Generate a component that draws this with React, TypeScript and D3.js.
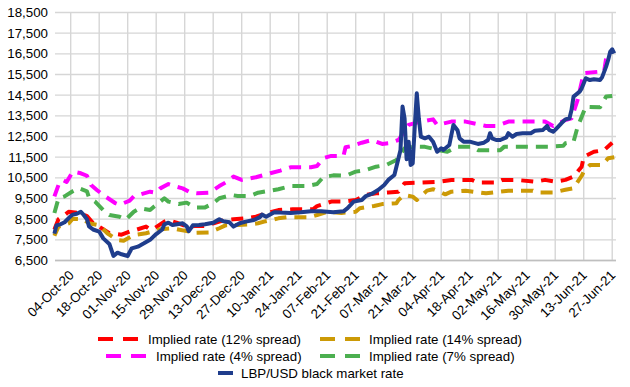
import * as d3 from "d3";

// LBP/USD black market rate vs implied rates, Sep 2020 - Jun 2021
const blackMarket: [string, number][] = [
  ["26-Sep-20", 7800], ["27-Sep-20", 8200], ["29-Sep-20", 8250], ["01-Oct-20", 8350],
  ["04-Oct-20", 8650], ["05-Oct-20", 8720], ["07-Oct-20", 8760], ["09-Oct-20", 8860],
  ["10-Oct-20", 8750], ["12-Oct-20", 8500], ["13-Oct-20", 8150], ["15-Oct-20", 8000],
  ["18-Oct-20", 7900], ["20-Oct-20", 7570], ["23-Oct-20", 7300], ["25-Oct-20", 6720],
  ["27-Oct-20", 6880], ["29-Oct-20", 6800], ["01-Nov-20", 6720], ["03-Nov-20", 7090],
  ["06-Nov-20", 7170], ["09-Nov-20", 7330], ["12-Nov-20", 7500], ["15-Nov-20", 7780],
  ["18-Nov-20", 8000], ["19-Nov-20", 8250], ["21-Nov-20", 8330], ["23-Nov-20", 8220],
  ["26-Nov-20", 8270], ["28-Nov-20", 8300], ["30-Nov-20", 8150], ["01-Dec-20", 7920],
  ["03-Dec-20", 8200], ["06-Dec-20", 8220], ["09-Dec-20", 8250], ["13-Dec-20", 8330],
  ["16-Dec-20", 8500], ["18-Dec-20", 8400], ["21-Dec-20", 8350], ["23-Dec-20", 8140],
  ["26-Dec-20", 8300], ["29-Dec-20", 8380], ["02-Jan-21", 8460], ["05-Jan-21", 8600],
  ["06-Jan-21", 8720], ["08-Jan-21", 8620], ["12-Jan-21", 8840], ["15-Jan-21", 8820],
  ["20-Jan-21", 8800], ["25-Jan-21", 8830], ["30-Jan-21", 8880], ["04-Feb-21", 8880],
  ["10-Feb-21", 8840], ["15-Feb-21", 8880], ["17-Feb-21", 9030], ["20-Feb-21", 9350],
  ["24-Feb-21", 9430], ["26-Feb-21", 9620], ["01-Mar-21", 9730], ["04-Mar-21", 9910],
  ["07-Mar-21", 10150], ["09-Mar-21", 10400], ["12-Mar-21", 10640], ["13-Mar-21", 11040],
  ["15-Mar-21", 11850], ["16-Mar-21", 13950], ["17-Mar-21", 13380], ["18-Mar-21", 11400],
  ["19-Mar-21", 12250], ["20-Mar-21", 11120], ["21-Mar-21", 11200], ["22-Mar-21", 12970],
  ["23-Mar-21", 14590], ["24-Mar-21", 13380], ["25-Mar-21", 12490], ["27-Mar-21", 12410],
  ["29-Mar-21", 12490], ["31-Mar-21", 12250], ["02-Apr-21", 11760], ["04-Apr-21", 11930],
  ["05-Apr-21", 11850], ["08-Apr-21", 12090], ["10-Apr-21", 13060], ["12-Apr-21", 12800],
  ["13-Apr-21", 12410], ["15-Apr-21", 12250], ["18-Apr-21", 12250], ["22-Apr-21", 12140],
  ["25-Apr-21", 12200], ["27-Apr-21", 12330], ["28-Apr-21", 12660], ["29-Apr-21", 12410],
  ["01-May-21", 12330], ["03-May-21", 12330], ["06-May-21", 12460], ["07-May-21", 12660],
  ["09-May-21", 12490], ["11-May-21", 12620], ["14-May-21", 12660], ["18-May-21", 12660],
  ["20-May-21", 12780], ["24-May-21", 12820], ["26-May-21", 13010], ["27-May-21", 12820],
  ["29-May-21", 12730], ["30-May-21", 12820], ["02-Jun-21", 13140], ["04-Jun-21", 13330],
  ["06-Jun-21", 13380], ["07-Jun-21", 13780], ["08-Jun-21", 14430], ["11-Jun-21", 14670],
  ["12-Jun-21", 14830], ["14-Jun-21", 15320], ["16-Jun-21", 15230], ["18-Jun-21", 15270],
  ["21-Jun-21", 15230], ["22-Jun-21", 15360], ["24-Jun-21", 15880], ["25-Jun-21", 16200],
  ["26-Jun-21", 16600], ["27-Jun-21", 16720], ["28-Jun-21", 16520],
];

const spread12: [string, number][] = [
  ["26-Sep-20", 8000], ["28-Sep-20", 8500], ["01-Oct-20", 8700], ["03-Oct-20", 8860],
  ["09-Oct-20", 8780], ["12-Oct-20", 8650], ["15-Oct-20", 8300], ["18-Oct-20", 8140],
  ["23-Oct-20", 7820], ["29-Oct-20", 7750], ["02-Nov-20", 7900], ["05-Nov-20", 7980],
  ["10-Nov-20", 8140], ["12-Nov-20", 8000], ["14-Nov-20", 8050], ["19-Nov-20", 8380],
  ["21-Nov-20", 8450], ["25-Nov-20", 8330], ["30-Nov-20", 8140], ["04-Dec-20", 8170],
  ["09-Dec-20", 8170], ["16-Dec-20", 8380], ["19-Dec-20", 8460], ["23-Dec-20", 8500],
  ["29-Dec-20", 8540], ["03-Jan-21", 8620], ["08-Jan-21", 8780], ["14-Jan-21", 8940],
  ["21-Jan-21", 8980], ["31-Jan-21", 8980], ["02-Feb-21", 9130], ["09-Feb-21", 9350],
  ["15-Feb-21", 9350], ["21-Feb-21", 9430], ["26-Feb-21", 9670], ["03-Mar-21", 9750],
  ["09-Mar-21", 9790], ["14-Mar-21", 9830], ["17-Mar-21", 10240], ["25-Mar-21", 10270],
  ["03-Apr-21", 10310], ["09-Apr-21", 10400], ["19-Apr-21", 10400], ["22-Apr-21", 10270],
  ["01-May-21", 10270], ["04-May-21", 10400], ["11-May-21", 10400], ["20-May-21", 10310],
  ["25-May-21", 10400], ["30-May-21", 10310], ["04-Jun-21", 10400], ["08-Jun-21", 10560],
  ["12-Jun-21", 11040], ["13-Jun-21", 11520], ["18-Jun-21", 11760], ["23-Jun-21", 11840],
  ["27-Jun-21", 12200],
];

const spread14: [string, number][] = [
  ["26-Sep-20", 7700], ["28-Sep-20", 8140], ["03-Oct-20", 8300], ["05-Oct-20", 8520],
  ["10-Oct-20", 8500], ["13-Oct-20", 8300], ["18-Oct-20", 8200], ["22-Oct-20", 7820],
  ["27-Oct-20", 7490], ["30-Oct-20", 7460], ["04-Nov-20", 7730], ["10-Nov-20", 7820],
  ["17-Nov-20", 8010], ["23-Nov-20", 8060], ["30-Nov-20", 7920], ["04-Dec-20", 7840],
  ["11-Dec-20", 7860], ["16-Dec-20", 8060], ["19-Dec-20", 8200], ["25-Dec-20", 8220],
  ["31-Dec-20", 8250], ["04-Jan-21", 8300], ["07-Jan-21", 8380], ["14-Jan-21", 8540],
  ["18-Jan-21", 8590], ["29-Jan-21", 8590], ["02-Feb-21", 8700], ["07-Feb-21", 8860],
  ["14-Feb-21", 8800], ["21-Feb-21", 8860], ["23-Feb-21", 9030], ["02-Mar-21", 9140],
  ["06-Mar-21", 9230], ["13-Mar-21", 9270], ["14-Mar-21", 9430], ["17-Mar-21", 9670],
  ["21-Mar-21", 9590], ["23-Mar-21", 9430], ["28-Mar-21", 9880], ["31-Mar-21", 9950],
  ["03-Apr-21", 9830], ["06-Apr-21", 9700], ["09-Apr-21", 9830], ["16-Apr-21", 9880],
  ["26-Apr-21", 9750], ["07-May-21", 9880], ["19-May-21", 9880], ["21-May-21", 9790],
  ["29-May-21", 9790], ["04-Jun-21", 9920], ["08-Jun-21", 10000], ["12-Jun-21", 10600],
  ["13-Jun-21", 10800], ["16-Jun-21", 11120], ["22-Jun-21", 11120], ["25-Jun-21", 11450],
  ["28-Jun-21", 11500],
];

const spread4: [string, number][] = [
  ["26-Sep-20", 9600], ["28-Sep-20", 10150], ["30-Sep-20", 10400], ["02-Oct-20", 10300],
  ["05-Oct-20", 10800], ["09-Oct-20", 10720], ["12-Oct-20", 10600], ["14-Oct-20", 10150],
  ["17-Oct-20", 9900], ["20-Oct-20", 9670], ["26-Oct-20", 9270], ["28-Oct-20", 9190],
  ["02-Nov-20", 9400], ["04-Nov-20", 9600], ["09-Nov-20", 9750], ["12-Nov-20", 9830],
  ["15-Nov-20", 9780], ["17-Nov-20", 9990], ["21-Nov-20", 10200], ["24-Nov-20", 10100],
  ["28-Nov-20", 9990], ["02-Dec-20", 9780], ["05-Dec-20", 9750], ["11-Dec-20", 9780],
  ["16-Dec-20", 10100], ["19-Dec-20", 10270], ["23-Dec-20", 10560], ["27-Dec-20", 10400],
  ["03-Jan-21", 10530], ["10-Jan-21", 10720], ["15-Jan-21", 10850], ["20-Jan-21", 11010],
  ["30-Jan-21", 11010], ["02-Feb-21", 11070], ["05-Feb-21", 11450], ["09-Feb-21", 11560],
  ["15-Feb-21", 11560], ["16-Feb-21", 11980], ["19-Feb-21", 12040], ["24-Feb-21", 12200],
  ["01-Mar-21", 12330], ["06-Mar-21", 12140], ["09-Mar-21", 12170], ["14-Mar-21", 12330],
  ["19-Mar-21", 13060], ["23-Mar-21", 13170], ["31-Mar-21", 13330], ["02-Apr-21", 13060],
  ["09-Apr-21", 13220], ["16-Apr-21", 13220], ["26-Apr-21", 13010], ["01-May-21", 13010],
  ["07-May-21", 13220], ["25-May-21", 13220], ["29-May-21", 13010], ["04-Jun-21", 13300],
  ["07-Jun-21", 13380], ["10-Jun-21", 14270], ["13-Jun-21", 15560], ["21-Jun-21", 15640],
  ["23-Jun-21", 15640], ["24-Jun-21", 16280], ["26-Jun-21", 16520],
];

const spread7: [string, number][] = [
  ["26-Sep-20", 8800], ["28-Sep-20", 9500], ["01-Oct-20", 9600], ["05-Oct-20", 9850],
  ["08-Oct-20", 10000], ["12-Oct-20", 9850], ["13-Oct-20", 9550], ["16-Oct-20", 9350],
  ["20-Oct-20", 8940], ["23-Oct-20", 8700], ["28-Oct-20", 8620], ["31-Oct-20", 8480],
  ["04-Nov-20", 8860], ["07-Nov-20", 9030], ["12-Nov-20", 8940], ["14-Nov-20", 9110],
  ["19-Nov-20", 9510], ["21-Nov-20", 9350], ["26-Nov-20", 9230], ["30-Nov-20", 9300],
  ["04-Dec-20", 9070], ["09-Dec-20", 9070], ["13-Dec-20", 9270], ["16-Dec-20", 9510],
  ["22-Dec-20", 9670], ["25-Dec-20", 9620], ["31-Dec-20", 9620], ["04-Jan-21", 9780],
  ["10-Jan-21", 9880], ["14-Jan-21", 9950], ["20-Jan-21", 10100], ["28-Jan-21", 10100],
  ["02-Feb-21", 10200], ["05-Feb-21", 10530], ["10-Feb-21", 10620], ["16-Feb-21", 10600],
  ["21-Feb-21", 10800], ["26-Feb-21", 10880], ["03-Mar-21", 11040], ["08-Mar-21", 11120],
  ["13-Mar-21", 11360], ["17-Mar-21", 11930], ["22-Mar-21", 12010], ["27-Mar-21", 12000],
  ["03-Apr-21", 11840], ["07-Apr-21", 11760], ["12-Apr-21", 12010], ["19-Apr-21", 12010],
  ["22-Apr-21", 11840], ["03-May-21", 11840], ["05-May-21", 12010], ["28-May-21", 12010],
  ["03-Jun-21", 12050], ["04-Jun-21", 12170], ["08-Jun-21", 12250], ["10-Jun-21", 12970],
  ["14-Jun-21", 13940], ["21-Jun-21", 13910], ["24-Jun-21", 14430], ["27-Jun-21", 14460],
];

const xTickLabels = [
  "04-Oct-20", "18-Oct-20", "01-Nov-20", "15-Nov-20", "29-Nov-20", "13-Dec-20",
  "27-Dec-20", "10-Jan-21", "24-Jan-21", "07-Feb-21", "21-Feb-21", "07-Mar-21",
  "21-Mar-21", "04-Apr-21", "18-Apr-21", "02-May-21", "16-May-21", "30-May-21",
  "13-Jun-21", "27-Jun-21",
];

const yTickValues = [6500, 7500, 8500, 9500, 10500, 11500, 12500, 13500, 14500, 15500, 16500, 17500, 18500];

const parse = d3.timeParse("%d-%b-%y");

const series = [
  { name: "Implied rate (12% spread)", data: spread12, color: "#ff0000", dashed: true },
  { name: "Implied rate (14% spread)", data: spread14, color: "#cc9a06", dashed: true },
  { name: "Implied rate (4% spread)", data: spread4, color: "#ff00ff", dashed: true },
  { name: "Implied rate (7% spread)", data: spread7, color: "#4caf50", dashed: true },
  { name: "LBP/USD black market rate", data: blackMarket, color: "#1f3d8c", dashed: false },
];

const width = 630;
const height = 387;
const plotLeft = 55;
const plotRight = 616;
const plotTop = 12.5;
const plotBottom = 260.5;
const font = "'Liberation Sans', Arial, sans-serif";

const xScale = d3.scaleTime()
  .domain([parse("26-Sep-20")!, parse("29-Jun-21")!])
  .range([54.4, 616.3]);

const yScale = d3.scaleLinear()
  .domain([6500, 18500])
  .range([plotBottom, plotTop]);

const line = d3.line<[string, number]>()
  .x((d) => xScale(parse(d[0])!))
  .y((d) => yScale(d[1]));

const fmt = d3.format(",");

// legend layout: [swatch x, swatch width, text x, row y]
const legendPos = [
  [98, 41, 148, 339],
  [320, 41, 369, 339],
  [106, 41, 156, 356],
  [320, 41, 369, 356],
  [218, 15, 241, 373],
];

export default function App() {
  return (
    <div style={{ position: "absolute", left: 0, top: 0 }}>
      <svg width={width} height={height} style={{ display: "block", background: "#fff" }}>
        {yTickValues.map((v) => (
          <line key={"h" + v} x1={plotLeft} x2={plotRight} y1={yScale(v)} y2={yScale(v)} stroke="#d6d6d6" strokeWidth={1.4} />
        ))}
        {xTickLabels.map((t) => (
          <line key={"v" + t} x1={xScale(parse(t)!)} x2={xScale(parse(t)!)} y1={plotTop} y2={plotBottom} stroke="#d6d6d6" strokeWidth={1.4} />
        ))}
        <line x1={plotLeft} x2={plotRight} y1={plotBottom} y2={plotBottom} stroke="#bfbfbf" strokeWidth={1.4} />

        {yTickValues.map((v) => (
          <text key={"yl" + v} x={48} y={yScale(v)} dy="0.35em" textAnchor="end" fontSize={13.3} fontFamily={font} fill="#000">
            {fmt(v)}
          </text>
        ))}
        {xTickLabels.map((t) => {
          const x = xScale(parse(t)!) + 4;
          const y = 276;
          return (
            <text key={"xl" + t} transform={`translate(${x},${y}) rotate(-45)`} textAnchor="end" fontSize={13.3} fontFamily={font} fill="#000">
              {t}
            </text>
          );
        })}

        {series.map((s) => (
          <path
            key={s.name}
            d={line(s.data) ?? ""}
            fill="none"
            stroke={s.color}
            strokeWidth={4}
            strokeDasharray={s.dashed ? "12 8" : undefined}
            strokeLinejoin="round"
          />
        ))}

        {series.map((s, i) => {
          const [sx, sw, tx, ty] = legendPos[i];
          return (
            <g key={"lg" + s.name}>
              <line x1={sx} x2={sx + sw} y1={ty} y2={ty} stroke={s.color} strokeWidth={4} strokeDasharray={s.dashed ? "15 10" : undefined} />
              <text x={tx} y={ty} dy="0.35em" fontSize={13.3} fontFamily={font} fill="#000">
                {s.name}
              </text>
            </g>
          );
        })}
      </svg>
    </div>
  );
}
